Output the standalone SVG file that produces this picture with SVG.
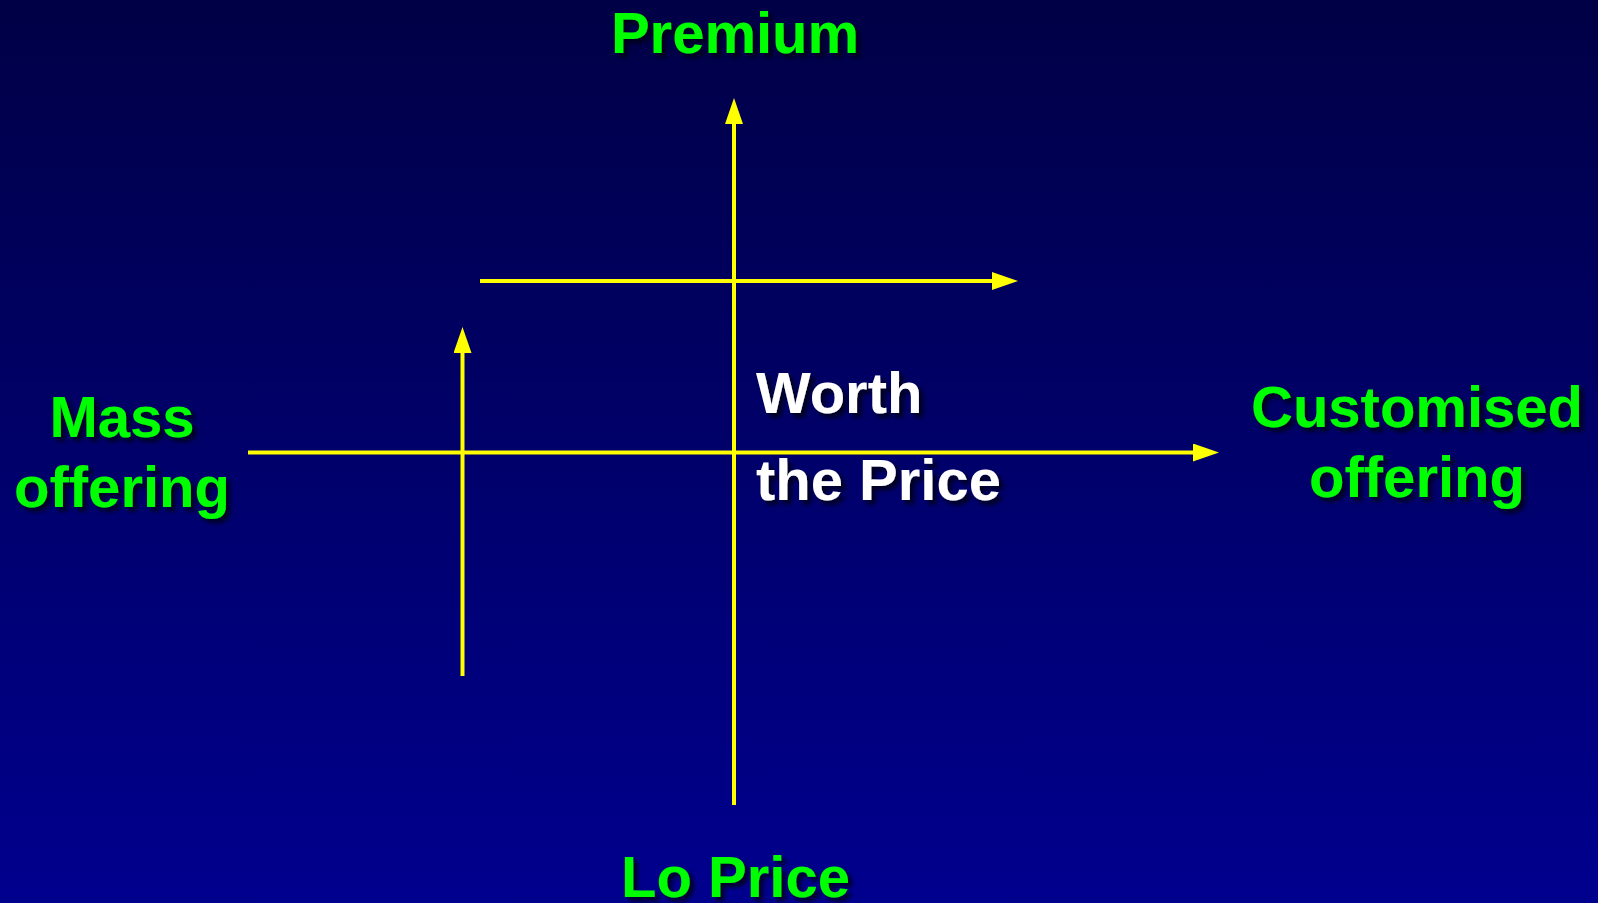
<svg xmlns="http://www.w3.org/2000/svg" width="1598" height="903" viewBox="0 0 1598 903">
  <defs>
    <linearGradient id="bg" x1="0" y1="0" x2="0" y2="1">
      <stop offset="0" stop-color="#000046"/>
      <stop offset="1" stop-color="#00008E"/>
    </linearGradient>
    <filter id="shadow" x="-10%" y="-20%" width="130%" height="150%">
      <feDropShadow dx="4" dy="4" stdDeviation="2" flood-color="#000010" flood-opacity="0.85"/>
    </filter>
    <marker id="arrow" viewBox="0 0 26 18" refX="1" refY="9" markerWidth="26" markerHeight="18" markerUnits="userSpaceOnUse" orient="auto">
      <path d="M0,0 L26,9 L0,18 Z" fill="#FFFF00"/>
    </marker>
    <style>
      .lbl { font-family: "Liberation Sans", Arial, sans-serif; font-weight: bold; font-size: 58px; filter: url(#shadow); }
      .green { fill: #00FF00; }
      .white { fill: #FFFFFF; }
      .ax { stroke: #FFFF00; stroke-width: 4; fill: none; }
    </style>
  </defs>
  <rect x="0" y="0" width="1598" height="903" fill="url(#bg)"/>

  <g id="connectors">
    <line class="ax" x1="734" y1="805" x2="734" y2="123" marker-end="url(#arrow)"/>
    <line class="ax" x1="248" y1="452.5" x2="1194" y2="452.5" marker-end="url(#arrow)"/>
    <line class="ax" x1="480" y1="281" x2="993" y2="281" marker-end="url(#arrow)"/>
    <line class="ax" x1="462.5" y1="676" x2="462.5" y2="352" marker-end="url(#arrow)"/>
  </g>

  <g id="premium">
    <text class="lbl green" x="735" y="53" text-anchor="middle">Premium</text>
  </g>
  <g id="lo-price">
    <text class="lbl green" x="735.5" y="897" text-anchor="middle">Lo Price</text>
  </g>
  <g id="mass-offering">
    <text class="lbl green" x="122" y="437" text-anchor="middle">Mass</text>
    <text class="lbl green" x="122" y="507" text-anchor="middle">offering</text>
  </g>
  <g id="customised-offering">
    <text class="lbl green" x="1417" y="427" text-anchor="middle">Customised</text>
    <text class="lbl green" x="1417" y="497" text-anchor="middle">offering</text>
  </g>
  <g id="worth-the-price">
    <text class="lbl white" x="756" y="413">Worth</text>
    <text class="lbl white" x="756" y="500">the Price</text>
  </g>
</svg>
